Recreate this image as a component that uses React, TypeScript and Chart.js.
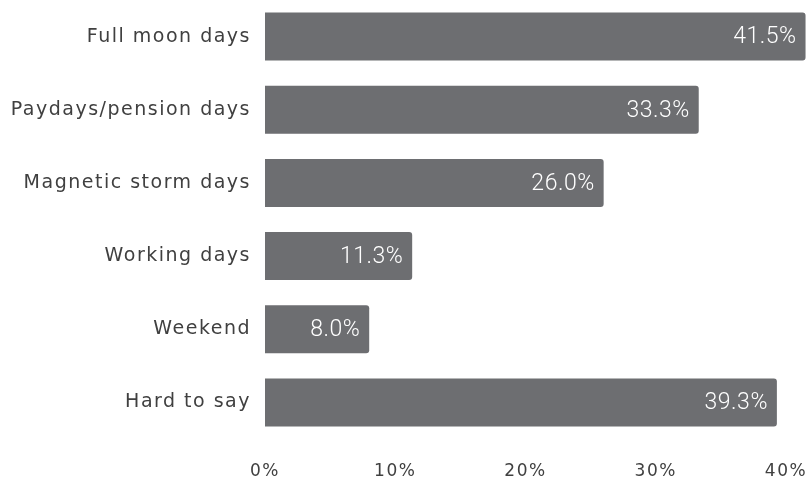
import React, { useEffect, useRef } from "react";
import { Chart, registerables } from "chart.js";

Chart.register(...registerables);

const categories = [
  "Full moon days",
  "Paydays/pension days",
  "Magnetic storm days",
  "Working days",
  "Weekend",
  "Hard to say",
];
const values = [41.5, 33.3, 26.0, 11.3, 8.0, 39.3];
const tickValues = [0, 10, 20, 30, 40];

const BAR_COLOR = "#6d6e71";
const TEXT_COLOR = "#404040";

const spacing = {
  id: "spacing",
  beforeDraw(chart: any) {
    (chart.ctx as any).letterSpacing = "1.5px";
  },
  afterDraw(chart: any) {
    (chart.ctx as any).letterSpacing = "0px";
  },
};

const valueLabels = {
  id: "valueLabels",
  afterDatasetsDraw(chart: any) {
    const ctx = chart.ctx;
    const meta = chart.getDatasetMeta(0);
    ctx.save();
    (ctx as any).letterSpacing = "0.5px";
    ctx.font = "300 23px Roboto";
    ctx.fillStyle = "#ffffff";
    ctx.textAlign = "right";
    ctx.textBaseline = "middle";
    meta.data.forEach((bar: any, i: number) => {
      const v = chart.data.datasets[0].data[i] as number;
      ctx.fillText(v.toFixed(1) + "%", bar.x - 9, bar.y + 1);
    });
    ctx.restore();
  },
};

export default function App() {
  const ref = useRef<HTMLCanvasElement | null>(null);
  useEffect(() => {
    document.body.style.margin = "0";
    const chart = new Chart(ref.current!, {
      type: "bar",
      data: {
        labels: categories,
        datasets: [
          {
            data: values,
            backgroundColor: BAR_COLOR,
            borderRadius: 3,
            categoryPercentage: 0.656,
            barPercentage: 1,
            clip: false as any,
          },
        ],
      },
      options: {
        indexAxis: "y",
        animation: false,
        responsive: false,
        layout: { padding: { left: 0, right: 25, top: 0, bottom: 0 } },
        plugins: {
          legend: { display: false },
          tooltip: { enabled: false },
        },
        scales: {
          x: {
            min: 0,
            max: 40,
            afterBuildTicks: (scale: any) => {
              scale.ticks = tickValues.map((v) => ({ value: v }));
            },
            afterFit: (scale: any) => {
              scale.height = 45;
              scale.paddingLeft = 0;
              scale.paddingRight = 0;
            },
            grid: { display: false, drawTicks: false },
            border: { display: false },
            ticks: {
              padding: 22,
              color: TEXT_COLOR,
              font: { family: "DejaVu Sans", size: 17 },
              callback: (v: any) => v + "%",
            },
          },
          y: {
            afterFit: (scale: any) => {
              scale.width = 265;
              scale.paddingTop = 0;
              scale.paddingBottom = 0;
            },
            grid: { display: false, drawTicks: false },
            border: { display: false },
            ticks: {
              padding: 14,
              color: TEXT_COLOR,
              font: { family: "DejaVu Sans", size: 19 },
            },
          },
        },
      },
      plugins: [spacing, valueLabels],
    });
    return () => chart.destroy();
  }, []);
  return <canvas ref={ref} width={811} height={484} style={{ display: "block" }} />;
}
